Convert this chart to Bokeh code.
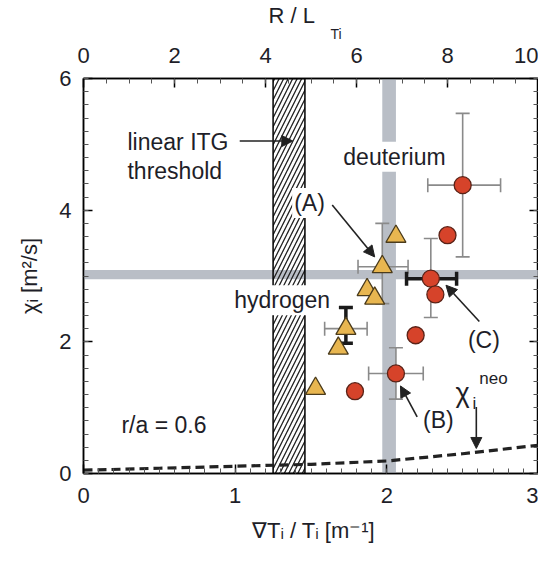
from bokeh.plotting import figure
from bokeh.models import (Range1d, LinearAxis, Whisker, ColumnDataSource, Label, Arrow,
                          NormalHead, TeeHead, SingleIntervalTicker, Title, CustomJSTickFormatter)
from bokeh.embed import file_html
from bokeh.resources import INLINE

# ---------------- data ----------------
deut_x = [2.50, 2.40, 2.29, 2.32, 2.19, 2.06, 1.79]
deut_y = [4.38, 3.62, 2.96, 2.72, 2.10, 1.52, 1.25]
hyd_x = [1.97, 2.06, 1.87, 1.92, 1.73, 1.68, 1.53]
hyd_y = [3.14, 3.60, 2.79, 2.66, 2.20, 1.90, 1.29]

# thin grey error bars
xerr_y = [4.38, 3.14, 2.20, 1.52]
xerr_lo = [2.27, 1.81, 1.59, 1.88]
xerr_hi = [2.75, 2.14, 1.87, 2.24]
yerr_x = [2.50, 1.97, 2.29, 2.06]
yerr_lo = [3.29, 2.58, 2.37, 1.13]
yerr_hi = [5.47, 3.80, 3.57, 1.91]
# thick black error bars
bxerr_y = [2.96]
bxerr_lo = [2.13]
bxerr_hi = [2.46]
byerr_x = [1.73]
byerr_lo = [1.98]
byerr_hi = [2.52]

# neoclassical chi
neo_x = [0.0, 0.5, 1.0, 1.5, 2.0, 2.5, 3.0]
neo_y = [0.05, 0.08, 0.11, 0.14, 0.19, 0.30, 0.43]

# bands
itg_band_x = [1.25, 1.46]
deut_band_x = [1.97, 2.06]
chi_band_y = [2.95, 3.09]

x_ticks_major = 1
y_ticks_major = 2
rl_ticks_major = 2

FONT = "Liberation Sans"
TXT = "#1e1e28"

p = figure(width=538, height=545, x_range=Range1d(0, 3), y_range=Range1d(0, 6),
           output_backend="svg", toolbar_location=None,
           min_border_left=83, min_border_top=78, min_border_bottom=70, min_border_right=0)
p.grid.visible = False
p.outline_line_color = "black"
p.outline_line_width = 1.5
p.background_fill_color = "white"
p.border_fill_color = "white"

p.extra_x_ranges = {"rl": Range1d(0, 10)}


def style_axis(ax, size="22px"):
    ax.major_tick_in = 9
    ax.major_tick_out = 0
    ax.minor_tick_in = 5
    ax.minor_tick_out = 0
    ax.major_tick_line_width = 1.5
    ax.minor_tick_line_width = 1
    ax.major_tick_line_color = "black"
    ax.minor_tick_line_color = "#555555"
    ax.axis_line_color = "black"
    ax.axis_line_width = 1.5
    ax.major_label_text_font = FONT
    ax.major_label_text_font_size = size
    ax.major_label_text_color = TXT
    ax.axis_label_text_font = FONT
    ax.axis_label_text_font_size = "22px"
    ax.axis_label_text_font_style = "normal"
    ax.axis_label_text_color = TXT


xa = p.xaxis[0]
xa.ticker = SingleIntervalTicker(interval=x_ticks_major, num_minor_ticks=10)
style_axis(xa)
xa.axis_label = "∇Tᵢ / Tᵢ [m⁻¹]"
xa.major_label_standoff = 14
xa.axis_label_standoff = 12

ya = p.yaxis[0]
ya.ticker = SingleIntervalTicker(interval=y_ticks_major, num_minor_ticks=10)
style_axis(ya)
ya.axis_label = "χᵢ [m²/s]"
ya.major_label_standoff = 12
ya.axis_label_standoff = 14

top = LinearAxis(x_range_name="rl", ticker=SingleIntervalTicker(interval=rl_ticks_major, num_minor_ticks=4))
style_axis(top)
top.major_label_standoff = 16
p.add_layout(top, "above")

# top axis title "R / L" with subscript "Ti"
p.add_layout(Title(text="Ti", align="left", offset=247, standoff=5,
                   text_font=FONT, text_font_size="14px", text_font_style="normal",
                   text_color=TXT), "above")
p.add_layout(Title(text="R / L", align="left", offset=185, standoff=-13,
                   text_font=FONT, text_font_size="22px", text_font_style="normal",
                   text_color=TXT), "above")

# mirrored ticks on the right side, without labels
right = LinearAxis(ticker=SingleIntervalTicker(interval=y_ticks_major, num_minor_ticks=10),
                   formatter=CustomJSTickFormatter(code="return ''"))
style_axis(right)
right.major_label_text_font_size = "0px"
right.major_label_standoff = 0
right.axis_label_standoff = 0
p.add_layout(right, "right")

# bands
p.quad(left=[0], right=[3], bottom=[chi_band_y[0]], top=[chi_band_y[1]],
       fill_color="#b9bec6", line_color=None, level="image")
p.quad(left=[deut_band_x[0]], right=[deut_band_x[1]], bottom=[0], top=[6],
       fill_color="#b9bec6", line_color=None, level="image")
p.quad(left=[itg_band_x[0]], right=[itg_band_x[1]], bottom=[0], top=[6],
       fill_color=None, fill_alpha=0, hatch_pattern="/", hatch_color="#222222",
       hatch_scale=9, hatch_weight=1.3, line_color="black", line_width=1.5, level="image")

# neoclassical
p.line(neo_x, neo_y, line_dash="9 5", line_width=3.2, line_color="#222222")


def whisk(base, lo, hi, dim, color, width, head):
    src = ColumnDataSource(dict(base=base, lower=lo, upper=hi))
    w = Whisker(source=src, base="base", lower="lower", upper="upper", dimension=dim,
                line_color=color, line_width=width, level="underlay",
                upper_head=TeeHead(size=head, line_color=color, line_width=width),
                lower_head=TeeHead(size=head, line_color=color, line_width=width))
    p.add_layout(w)


whisk(xerr_y, xerr_lo, xerr_hi, "width", "#8a8a8a", 1.6, 14)
whisk(yerr_x, yerr_lo, yerr_hi, "height", "#8a8a8a", 1.6, 14)
whisk(bxerr_y, bxerr_lo, bxerr_hi, "width", "#1a1a1a", 3.5, 14)
whisk(byerr_x, byerr_lo, byerr_hi, "height", "#1a1a1a", 3.5, 14)

p.scatter(hyd_x, hyd_y, marker="triangle", size=20, fill_color="#E8B650",
          line_color="#4a3b1c", line_width=1.3)
p.scatter(deut_x, deut_y, marker="circle", size=17, fill_color="#D6432A",
          line_color="#5a2318", line_width=1.3)

# arrows
arrows = [
    (1.03, 5.05, 1.38, 5.05),
    (1.64, 4.08, 1.92, 3.29),
    (2.61, 2.31, 2.39, 2.86),
    (2.20, 0.86, 2.09, 1.33),
    (2.59, 1.01, 2.59, 0.38),
]
for (xs, ys, xe, ye) in arrows:
    p.add_layout(Arrow(x_start=xs, y_start=ys, x_end=xe, y_end=ye, line_width=1.6,
                       line_color="#222222",
                       end=NormalHead(size=11, fill_color="#222222", line_color="#222222")))


def lab(x, y, t, size="23px", align="left", bg=None, base="middle"):
    kw = {}
    if bg:
        kw = dict(background_fill_color=bg, padding=2)
    p.add_layout(Label(x=x, y=y, text=t, text_font=FONT, text_font_size=size,
                       text_color=TXT, text_align=align, text_baseline=base, **kw))


lab(0.29, 5.04, "linear ITG")
lab(0.29, 4.59, "threshold")
lab(1.70, 4.81, "deuterium", bg="white")
lab(1.49, 4.11, "(A)", align="center", bg="white")
lab(0.98, 2.63, "hydrogen", bg="white")
lab(2.64, 2.03, "(C)", align="center")
lab(2.34, 0.81, "(B)", align="center")
lab(0.25, 0.73, "r/a = 0.6")
lab(2.50, 1.22, "χ", size="27px", align="center")
lab(2.565, 1.06, "i", size="17px")
lab(2.61, 1.45, "neo", size="17px")

open("out.html", "w").write(file_html(p, INLINE))
